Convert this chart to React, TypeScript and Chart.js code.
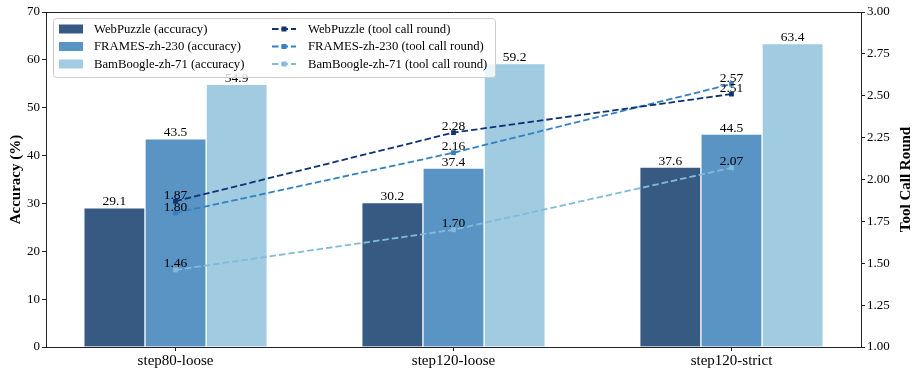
import React, { useEffect, useRef } from 'react';
import { Chart, registerables } from 'chart.js';

Chart.register(...registerables);

const categories = ['step80-loose', 'step120-loose', 'step120-strict'];
const barNames = ['WebPuzzle (accuracy)', 'FRAMES-zh-230 (accuracy)', 'BamBoogle-zh-71 (accuracy)'];
const lineNames = ['WebPuzzle (tool call round)', 'FRAMES-zh-230 (tool call round)', 'BamBoogle-zh-71 (tool call round)'];
const webPuzzleAcc = [29.1, 30.2, 37.6];
const framesAcc = [43.5, 37.4, 44.5];
const bamboogleAcc = [54.9, 59.2, 63.4];
const webPuzzleRounds = [1.87, 2.28, 2.51];
const framesRounds = [1.8, 2.16, 2.57];
const bamboogleRounds = [1.46, 1.7, 2.07];

const barColors = ['#375a82', '#5a94c5', '#a0cbe1'];
const lineColors = ['#0d3471', '#3480c0', '#82badc'];
const FONT = '"Liberation Serif", "Times New Roman", serif';
const BAR_W = 0.22;

const overlay = {
  id: 'overlay',
  afterDatasetDraw(chart: any, args: any) {
    const ctx = chart.ctx;
    const ds = chart.data.datasets[args.index];
    ctx.save();
    ctx.font = `13.5px ${FONT}`;
    ctx.fillStyle = '#000';
    ctx.textAlign = 'center';
    ctx.textBaseline = 'alphabetic';
    args.meta.data.forEach((el: any, j: number) => {
      const v = ds.data[j].y;
      const txt = ds.type === 'line' ? v.toFixed(2) : v.toFixed(1);
      ctx.fillText(txt, el.x, el.y - 2.5);
    });
    ctx.restore();
  },
  afterDraw(chart: any) {
    const ctx = chart.ctx;
    const { left, right, top, bottom } = chart.chartArea;
    ctx.save();
    // top spine
    ctx.strokeStyle = '#222';
    ctx.lineWidth = 1;
    ctx.beginPath();
    ctx.moveTo(left, top + 0.5);
    ctx.lineTo(right, top + 0.5);
    ctx.stroke();

    // axis titles
    ctx.fillStyle = '#000';
    ctx.font = `bold 15px ${FONT}`;
    ctx.textAlign = 'center';
    ctx.textBaseline = 'middle';
    const midY = (top + bottom) / 2;
    ctx.save();
    ctx.translate(16, midY);
    ctx.rotate(-Math.PI / 2);
    ctx.fillText('Accuracy (%)', 0, 0);
    ctx.restore();
    ctx.save();
    ctx.translate(chart.scales.y1.right - 10, midY);
    ctx.rotate(-Math.PI / 2);
    ctx.fillText('Tool Call Round', 0, 0);
    ctx.restore();

    // legend
    const lx = left + 7;
    const ly = top + 6;
    const lw = 442;
    const lh = 59;
    ctx.beginPath();
    ctx.roundRect(lx + 0.5, ly + 0.5, lw, lh, 3);
    ctx.fillStyle = 'rgba(255,255,255,0.8)';
    ctx.fill();
    ctx.strokeStyle = '#cccccc';
    ctx.lineWidth = 1;
    ctx.stroke();
    ctx.font = `12.7px ${FONT}`;
    ctx.textAlign = 'left';
    ctx.textBaseline = 'middle';
    const rowY = [ly + 11, ly + 28.5, ly + 46];
    barNames.forEach((name, i) => {
      const y = rowY[i];
      ctx.fillStyle = barColors[i];
      ctx.fillRect(lx + 6, y - 4.5, 24, 9);
      ctx.fillStyle = '#000';
      ctx.fillText(name, lx + 41, y + 0.5);
    });
    lineNames.forEach((name, i) => {
      const y = rowY[i];
      const x0 = lx + 219;
      ctx.strokeStyle = lineColors[i];
      ctx.lineWidth = 1.8;
      ctx.setLineDash([6.5, 3]);
      ctx.beginPath();
      ctx.moveTo(x0, y);
      ctx.lineTo(x0 + 24, y);
      ctx.stroke();
      ctx.setLineDash([]);
      ctx.fillStyle = lineColors[i];
      ctx.fillRect(x0 + 12 - 2.5, y - 2.5, 5, 5);
      ctx.fillStyle = '#000';
      ctx.fillText(name, lx + 255, y + 0.5);
    });
    ctx.restore();
  },
};

export default function App() {
  const ref = useRef<HTMLCanvasElement>(null);
  useEffect(() => {
    if (!ref.current) return;
    const barSeries = [webPuzzleAcc, framesAcc, bamboogleAcc];
    const lineSeries = [webPuzzleRounds, framesRounds, bamboogleRounds];
    const datasets: any[] = [];
    barSeries.forEach((vals, k) => {
      datasets.push({
        type: 'bar',
        label: barNames[k],
        data: vals.map((v, i) => ({ x: i + (k - 1) * BAR_W, y: v })),
        backgroundColor: barColors[k],
        borderColor: '#ffffff',
        borderWidth: 1,
        borderSkipped: 'bottom',
        grouped: false,
        barPercentage: 1,
        categoryPercentage: 1,
        yAxisID: 'y',
        order: 1,
      });
    });
    lineSeries.forEach((vals, k) => {
      datasets.push({
        type: 'line',
        label: lineNames[k],
        data: vals.map((v, i) => ({ x: i, y: v })),
        borderColor: lineColors[k],
        backgroundColor: lineColors[k],
        borderWidth: 1.8,
        borderDash: [6.5, 3],
        pointStyle: 'rect',
        pointRadius: 3.4,
        pointBorderWidth: 0,
        pointBackgroundColor: lineColors[k],
        tension: 0,
        fill: false,
        yAxisID: 'y1',
        order: 0,
      });
    });
    const tickFont = { family: FONT, size: 13 };
    const chart = new Chart(ref.current, {
      type: 'bar',
      data: { datasets },
      plugins: [overlay],
      options: {
        animation: false,
        responsive: true,
        maintainAspectRatio: false,
        layout: { padding: { top: 12, left: 0, right: 0, bottom: 0 } },
        plugins: { legend: { display: false }, tooltip: { enabled: false } },
        scales: {
          x: {
            type: 'linear',
            offset: false,
            min: -0.466,
            max: 2.466,
            afterBuildTicks: (s: any) => {
              s.ticks = categories.map((_, i) => ({ value: i }));
            },
            afterFit: (s: any) => {
              s.height = 30;
            },
            ticks: {
              callback: (v: any) => categories[v],
              font: { family: FONT, size: 15 },
              color: '#000',
              padding: 1,
              autoSkip: false,
              maxRotation: 0,
            },
            grid: { display: true, offset: false, drawOnChartArea: false, drawTicks: true, tickLength: 4, color: '#222' },
            border: { display: true, color: '#222', width: 1 },
          },
          y: {
            position: 'left',
            min: 0,
            max: 70,
            afterFit: (s: any) => {
              s.width = 46;
            },
            ticks: { stepSize: 10, font: tickFont, color: '#000', padding: 2 },
            grid: { display: true, drawOnChartArea: false, drawTicks: true, tickLength: 4, color: '#222' },
            border: { display: true, color: '#222', width: 1 },
          },
          y1: {
            position: 'right',
            min: 1,
            max: 3,
            afterFit: (s: any) => {
              s.width = 55;
            },
            ticks: {
              stepSize: 0.25,
              font: tickFont,
              color: '#000',
              padding: 2,
              callback: (v: any) => Number(v).toFixed(2),
            },
            grid: { display: true, drawOnChartArea: false, drawTicks: true, tickLength: 4, color: '#222' },
            border: { display: true, color: '#222', width: 1 },
          },
        },
      } as any,
    });
    return () => chart.destroy();
  }, []);
  return (
    <div style={{ position: 'fixed', left: 0, top: 0, width: 916, height: 377, background: '#fff' }}>
      <canvas ref={ref} />
    </div>
  );
}
